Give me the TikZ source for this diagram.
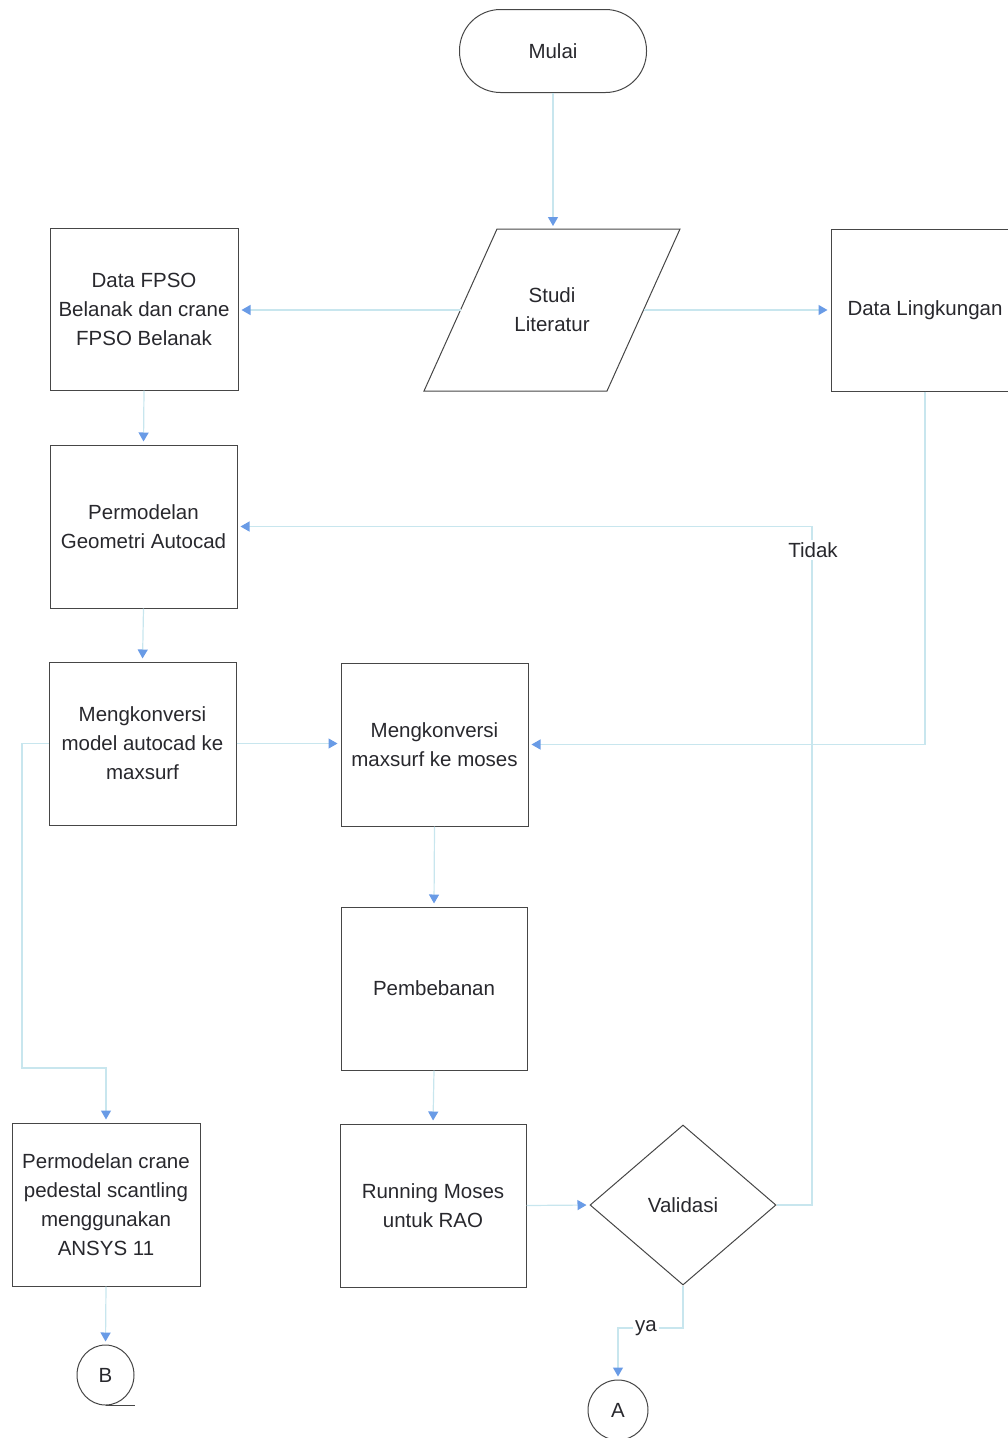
\documentclass[tikz,border=0pt]{standalone}
\usepackage{fontspec}
\setmainfont{Liberation Sans}
\usetikzlibrary{shapes.geometric,arrows.meta}
\definecolor{boxc}{RGB}{70,70,70}
\definecolor{linec}{RGB}{200,230,238}
\definecolor{tipc}{RGB}{105,155,230}
\definecolor{txtc}{RGB}{40,40,45}
\begin{document}
\begin{tikzpicture}[x=1pt,y=-1pt,
  every node/.style={font=\fontsize{20.5}{29}\selectfont, text=txtc, align=center},
  proc/.style={draw=boxc, line width=1pt, minimum width=187pt, minimum height=163pt, inner sep=2pt},
  conn/.style={draw=linec, line width=1.2pt, -{Triangle[length=9pt,width=10pt,color=tipc]}, shorten >=3pt},
  lbl/.style={fill=white, inner sep=2pt}]
\useasboundingbox (0,0) rectangle (1007,1438);

% nodes
\node[draw=boxc, line width=1pt, rounded corners=41pt, minimum width=187pt, minimum height=83pt] (mulai) at (553,51) {Mulai};
\draw[boxc, line width=1pt] (497,229) -- (680,229) -- (607,391) -- (424,391) -- cycle;
\node (studi) at (552,310) {Studi\\Literatur};
\coordinate (studiTop) at (553,229);
\coordinate (studiL) at (460.5,310);
\coordinate (studiR) at (643.5,310);
\node[proc, minimum width=188pt, minimum height=162pt] (fpso) at (144,309) {Data FPSO\\Belanak dan crane\\FPSO Belanak};
\node[proc, minimum width=188pt, minimum height=162pt] (ling) at (925,310) {Data Lingkungan};
\node[proc] (geom) at (143.5,526.5) {Permodelan\\Geometri Autocad};
\node[proc] (model) at (142.5,743.5) {Mengkonversi\\model autocad ke\\maxsurf};
\node[proc] (maxsurf) at (434.5,744.5) {Mengkonversi\\maxsurf ke moses};
\node[proc, minimum width=186pt] (pemb) at (434,988.5) {Pembebanan};
\node[proc, minimum width=186pt] (running) at (433,1205.5) {Running Moses\\untuk RAO};
\node[proc, minimum width=188pt] (crane) at (106,1204.5) {Permodelan crane\\pedestal scantling\\menggunakan\\ANSYS 11};
\node[draw=boxc, line width=1pt, diamond, minimum width=186pt, minimum height=160pt, inner sep=0pt] (valid) at (683,1205) {Validasi};
\node[draw=boxc, line width=1pt, ellipse, minimum width=57pt, minimum height=60pt, inner sep=0pt] (B) at (105.5,1375) {B};
\node[draw=boxc, line width=1pt, circle, minimum size=60pt, inner sep=0pt] (A) at (618,1410) {A};
\draw[boxc, line width=1pt] (B.south) -- ++(29,0);

\coordinate (lb) at (22,1068);
\coordinate (tb) at (812,1205);
\coordinate (yb) at (683,1328);

% connectors
\draw[conn] (mulai.south) -- (studiTop);
\draw[conn] (studiL) -- (studiL -| fpso.east);
\draw[conn] (studiR) -- (studiR -| ling.west);
\draw[conn] (fpso.south) -- (geom.north);
\draw[conn] (geom.south) -- (model.north);
\draw[conn] (model.east) -- (model.east -| maxsurf.west);
\draw[conn] (ling.south) |- (maxsurf.east);
\draw[conn] (maxsurf.south) -- (pemb.north);
\draw[conn] (pemb.south) -- (running.north);
\draw[conn] (running.east) -- (valid.west);
\draw[conn] (valid.east) -- (tb) |- (geom.east);
\draw[conn] (model.west) -- (model.west -| lb) -- (lb) -| (crane.north);
\draw[conn] (crane.south) -- (B.north);
\draw[conn] (valid.south) -- (yb) -| (A.north);

% labels
\node[lbl] (tidak) at (813,550) {Tidak};
\node[lbl] (ya) at (646,1328) {ya};
\end{tikzpicture}
\end{document}
